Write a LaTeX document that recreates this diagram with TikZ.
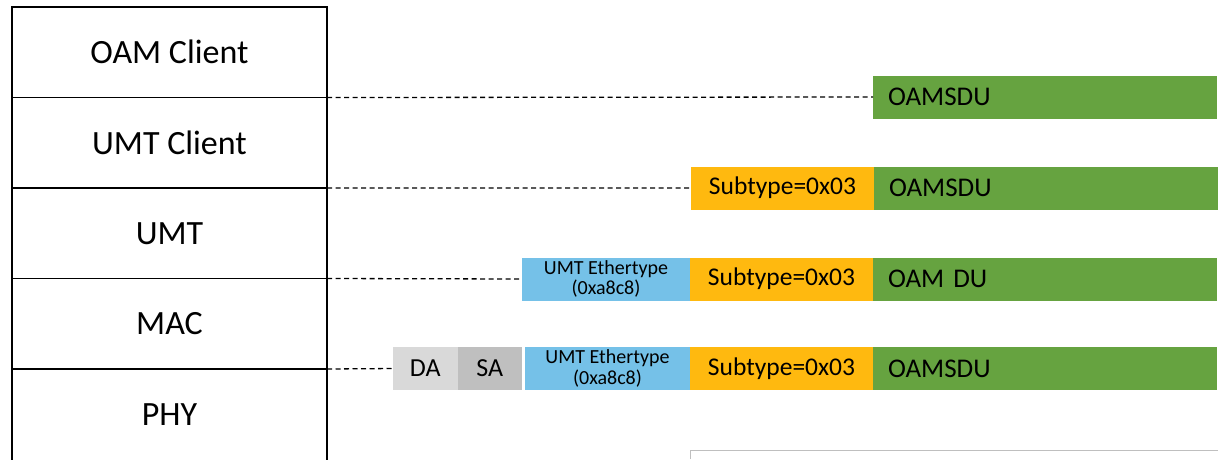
\documentclass[tikz,border=0pt]{standalone}
\usepackage{fontspec}
\setmainfont{Carlito}
\usetikzlibrary{positioning}
\definecolor{sdugreen}{RGB}{102,163,64}
\definecolor{suborange}{RGB}{255,185,15}
\definecolor{ethblue}{RGB}{117,193,232}
\definecolor{dagray}{RGB}{217,217,217}
\definecolor{sagray}{RGB}{191,191,191}
\tikzset{
    x=1pt, y=-1pt, % one unit is one pixel of the layout, y runs downwards
    layer/.style={draw, line width=1.3pt, outer sep=0pt, minimum width=315pt, minimum height=90.5pt, font=\fontsize{34}{34}\selectfont}, % one layer of the stack
    field/.style={minimum height=43pt, inner sep=0pt, outer sep=0pt, font=\fontsize{25.5}{25.5}\selectfont}, % one field of a frame
    sdu/.style={field, fill=sdugreen, text width=314pt, inner xsep=15pt, align=left, font=\fontsize{27}{27}\selectfont},
    subtype/.style={field, fill=suborange, minimum width=183pt},
    ethtype/.style={field, fill=ethblue, minimum width=168pt, align=center, font=\fontsize{20}{20.5}\selectfont},
    addr/.style={field, minimum width=64.5pt, font=\fontsize{26}{26}\selectfont},
    dashline/.style={line width=1.3pt, dash pattern=on 5pt off 3.5pt}, % ties a layer to its frame
}
\begin{document}
\begin{tikzpicture}
\useasboundingbox (0,0) rectangle (1218,459);
% protocol stack
\node[layer] (oam) at (169.5,52.25) {OAM Client};
\node[layer, below=0pt of oam] (umtc) {UMT Client};
\node[layer, below=0pt of umtc] (umt) {UMT};
\node[layer, below=0pt of umt] (mac) {MAC};
\node[layer, draw=none, below=0pt of mac] (phy) {PHY};
\draw[line width=1.3pt] (phy.north west) -- (phy.south west) (phy.north east) -- (phy.south east);
% frames
\node[sdu, anchor=west] (sdua) at (873,97) {OAMSDU};
\node[subtype, anchor=west] (suba) at (691,188) {Subtype=0x03};
\node[sdu, right=0pt of suba] (sdub) {OAMSDU};
\node[ethtype, anchor=west] (etha) at (522,279) {UMT Ethertype\\(0xa8c8)};
\node[subtype, right=0pt of etha] (subb) {Subtype=0x03};
\node[sdu, right=0pt of subb] (sduc) {OAM DU};
\node[addr, fill=dagray, anchor=west] (da) at (393,368.5) {DA};
\node[addr, fill=sagray, right=0pt of da] (sa) {SA};
\node[ethtype, minimum width=165pt, right=3pt of sa] (ethb) {UMT Ethertype\\(0xa8c8)};
\node[subtype, right=0pt of ethb] (subc) {Subtype=0x03};
\node[sdu, right=0pt of subc] (sdud) {OAMSDU};
\draw[dashline]
    (umtc.north east) -- (sdua.west)
    (umt.north east) -- (suba.west)
    (mac.north east) -- (etha.west)
    (phy.north east) -- (da.west);
% edge of the next box
\draw[black!25, line width=1pt] (690,459) -- (690,450) -- (1218,450);
\end{tikzpicture}
\end{document}
